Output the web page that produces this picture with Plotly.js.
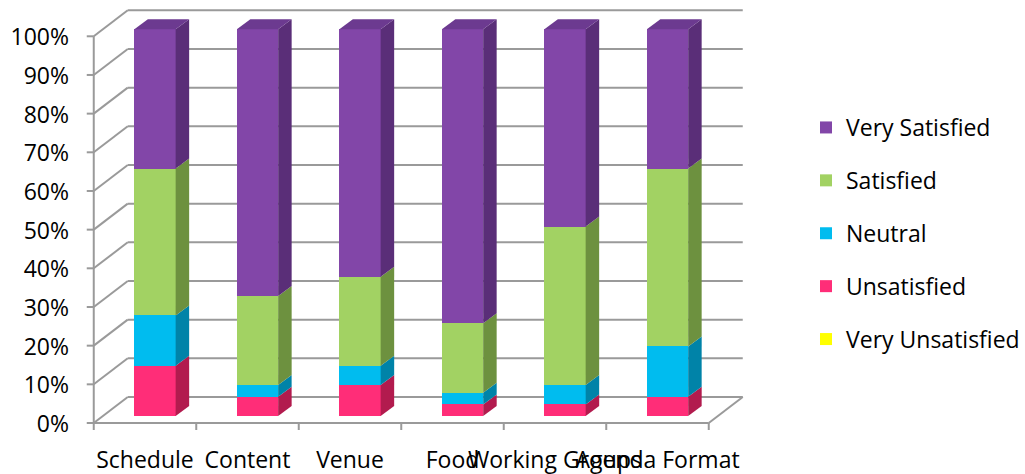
<!DOCTYPE html>
<html>
<head>
<meta charset="utf-8">
<script src="https://cdn.plot.ly/plotly-3.0.1.min.js"></script>
<style>
  html, body { margin: 0; padding: 0; background: #fff; }
  #chart { width: 1025px; height: 474px; }
</style>
</head>
<body>
<div id="chart"></div>
<script>
// Survey results, percent of responses per topic
const categories = ['Schedule', 'Content', 'Venue', 'Food', 'Working Groups', 'Agenda Format'];
const veryUnsatisfied = [0, 0, 0, 0, 0, 0];
const unsatisfied     = [13, 5, 8, 3, 3, 5];
const neutral         = [13, 3, 5, 3, 5, 13];
const satisfied       = [38, 23, 23, 18, 41, 46];
const verySatisfied   = [36, 69, 64, 76, 51, 36];
const yTickValues = [0, 10, 20, 30, 40, 50, 60, 70, 80, 90, 100];
const yTickLabels = ['0%', '10%', '20%', '30%', '40%', '50%', '60%', '70%', '80%', '90%', '100%'];

// Series styling: front face colour and the darker side face colour
const series = [
  { name: 'Very Unsatisfied', values: veryUnsatisfied, front: '#FFFF00', side: '#B3B300' },
  { name: 'Unsatisfied',      values: unsatisfied,     front: '#FF2D78', side: '#B21B4E' },
  { name: 'Neutral',          values: neutral,         front: '#00BCEF', side: '#0083A8' },
  { name: 'Satisfied',        values: satisfied,       front: '#A2D263', side: '#6D913F' },
  { name: 'Very Satisfied',   values: verySatisfied,   front: '#8246A8', side: '#5A2E78' }
];
const topFaceColor = '#6C3A90';

// Plot geometry (the bar front plane is the data plane)
const W = 1025, H = 474;
const margin = { l: 80, r: 265, t: 5, b: 44, pad: 0, autoexpand: false };
const xRange = [-0.7317, 5.9024];
const yRange = [-3.62, 106.28];
const plotW = W - margin.l - margin.r;
const plotH = H - margin.t - margin.b;
const pxX = (xRange[1] - xRange[0]) / plotW;   // data units per pixel along x
const pxY = (yRange[1] - yRange[0]) / plotH;   // data units per pixel along y

// Depth offsets (pixels) of the front wall, the back wall and the bar depth
const front = { dx: -10 * pxX, dy: -7 * pxY };
const back  = { dx: 24 * pxX,  dy: 19 * pxY };
const depth = { dx: 13.5 * pxX, dy: 10 * pxY };
const barWidth = 0.403;
const tickLenX = 7 * pxX, tickLenY = 7 * pxY;

const gridColor = '#9A9A9A';
const shapes = [];
const line = (x0, y0, x1, y1) => shapes.push({
  type: 'line', xref: 'x', yref: 'y', x0, y0, x1, y1, layer: 'below',
  line: { color: gridColor, width: 2 }
});
const poly = (pts, color) => shapes.push({
  type: 'path', xref: 'x', yref: 'y', layer: 'above',
  path: 'M' + pts.map(p => p[0] + ',' + p[1]).join('L') + 'Z',
  fillcolor: color, line: { width: 0 }
});

const nCat = categories.length;
const leftEdge = -0.5, rightEdge = nCat - 0.5;

// Back wall gridlines and left wall diagonals
yTickValues.forEach(v => {
  line(leftEdge + back.dx, v + back.dy, rightEdge + back.dx, v + back.dy);
  line(leftEdge + front.dx, v + front.dy, leftEdge + back.dx, v + back.dy);
  line(leftEdge + front.dx - tickLenX, v + front.dy, leftEdge + front.dx, v + front.dy);
});
// Front vertical axis
line(leftEdge + front.dx, front.dy, leftEdge + front.dx, 100 + front.dy);
// Floor front edge and right floor diagonal
line(leftEdge + front.dx, front.dy, rightEdge + front.dx, front.dy);
line(rightEdge + front.dx, front.dy, rightEdge + back.dx, back.dy);
// Category tick marks along the floor front edge
for (let k = 0; k <= nCat; k++) {
  const x = leftEdge + k + front.dx;
  line(x, front.dy, x, front.dy - tickLenY);
}

// Side and top faces of each stacked bar
for (let i = 0; i < nCat; i++) {
  const xl = i - barWidth / 2, xr = i + barWidth / 2;
  let base = 0;
  series.forEach(s => {
    const v = s.values[i];
    if (v > 0) {
      const y0 = base, y1 = base + v;
      poly([[xr, y0], [xr + depth.dx, y0 + depth.dy], [xr + depth.dx, y1 + depth.dy], [xr, y1]], s.side);
    }
    base += v;
  });
  poly([[xl, base], [xr, base], [xr + depth.dx, base + depth.dy], [xl + depth.dx, base + depth.dy]], topFaceColor);
}

// Legend lists the top of the stack first
const traces = series.map((s, k) => ({
  type: 'bar',
  name: s.name,
  x: categories,
  y: s.values,
  width: barWidth,
  legendgroup: s.name,
  legendrank: series.length - k,
  marker: { color: s.front, line: { width: 0 } },
  hoverinfo: 'x+y+name'
}));

const font = { family: '"Open Sans", sans-serif', size: 23, color: '#000' };

const layout = {
  width: W, height: H, autosize: false,
  margin,
  paper_bgcolor: '#FFFFFF',
  plot_bgcolor: 'rgba(0,0,0,0)',
  font,
  barmode: 'stack',
  showlegend: true,
  legend: {
    x: (806 - margin.l) / plotW, xanchor: 'left',
    y: 1 - (106 - margin.t) / plotH, yanchor: 'top',
    traceorder: 'grouped',
    tracegroupgap: 20,
    font,
    bgcolor: 'rgba(0,0,0,0)'
  },
  xaxis: {
    type: 'category', range: xRange,
    showgrid: false, zeroline: false, showline: false,
    ticks: '', tickangle: 0,
    ticklabelshift: -10, ticklabelstandoff: 14,
    tickfont: font, fixedrange: true
  },
  yaxis: {
    range: yRange,
    tickvals: yTickValues, ticktext: yTickLabels,
    showgrid: false, zeroline: false, showline: false,
    ticks: '',
    ticklabelshift: 8, ticklabelstandoff: 10,
    tickfont: font, fixedrange: true
  },
  shapes
};

Plotly.newPlot('chart', traces, layout, { displayModeBar: false, staticPlot: true });
</script>
</body>
</html>
